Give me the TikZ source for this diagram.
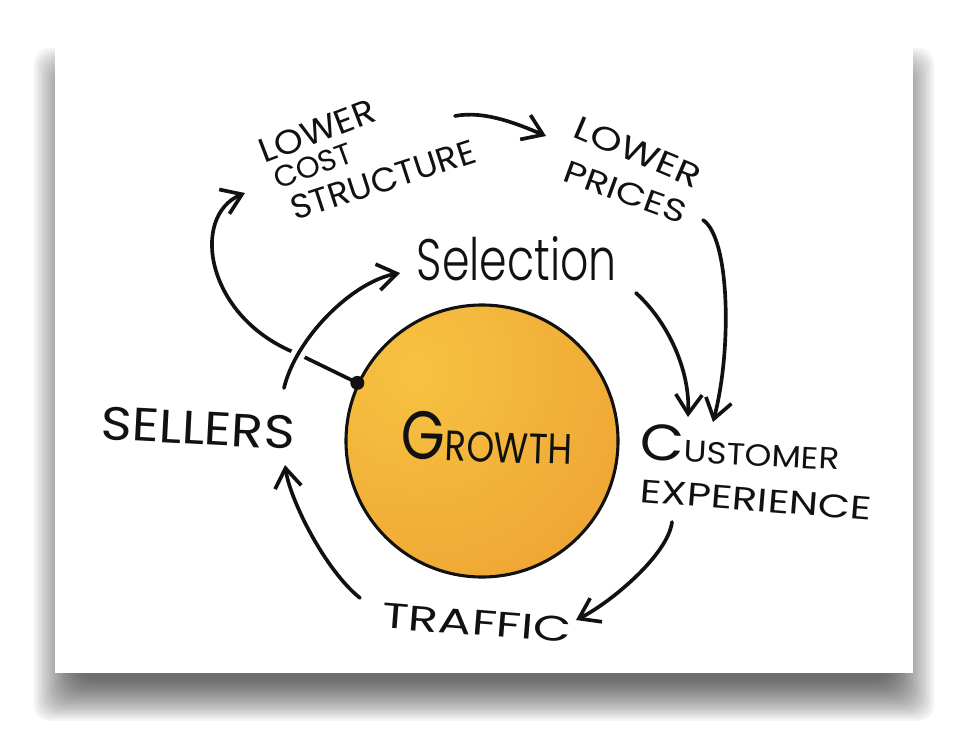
\documentclass[tikz,border=0pt]{standalone}
\usepackage{fontspec}
\setmainfont{Poppins}
\newfontfamily\lightfont{Poppins Light}
\usetikzlibrary{arrows.meta,calc}
\newlength\upx
\setlength\upx{0.025cm}
\newcommand{\fitw}[3]{\resizebox{#1\upx}{#2\upx}{#3}}
\definecolor{ink}{HTML}{111111}
\definecolor{orA}{HTML}{F6C241}
\definecolor{orB}{HTML}{EE9F31}
\tikzset{
  conn/.style={draw=ink, line width=2.6pt, line cap=round, line join=round,
    -{Straight Barb[length=0.48cm,width=0.66cm]}},
  lbl/.style={inner sep=0pt, outer sep=0pt, text=ink},
  casing/.style={preaction={draw=white, line width=10pt, -}},
}
\begin{document}
\begin{tikzpicture}[x=0.025cm,y=-0.025cm]
\useasboundingbox (0,0) rectangle (968,744);
\fill[white] (0,0) rectangle (968,744);
% card shadow
\foreach \i in {0,...,17}{
  \fill[black,opacity=0.045,rounded corners=16\upx]
    ({78-2.6*\i},{92-2.6*\i}) rectangle ({890+2.6*\i},{680+2.4*\i});
}
\fill[white] (55,41) rectangle (913,673);
% growth circle
\begin{scope}
  \clip (482,441) circle (136);
  \shade[inner color=orA, outer color=orB] (415,370) circle (300);
\end{scope}
\node[circle, draw=ink, line width=2.2pt, minimum size=272\upx, inner sep=0pt] (growth) at (482,441) {};
\node[lbl, rotate=-2] (growthlabel) at (487,438)
  {\fitw{171}{48}{{\fontsize{20}{20}\selectfont G}{\fontsize{12.5}{12.5}\selectfont ROWTH}}};
% labels
\node[lbl] (selection) at (517,259) {\fitw{200}{44}{\lightfont Selection}};
\node[lbl, rotate=-3] (sellers) at (198,428) {\fitw{194}{33}{SELLERS}};
\node[lbl, rotate=-3] (customer) at (740,447)
  {\fitw{200}{36}{{\fontsize{20}{20}\selectfont C}{\fontsize{12}{12}\selectfont USTOMER}}};
\node[lbl, rotate=-4.5] (experience) at (756,500) {\fitw{232}{23}{EXPERIENCE}};
\node[lbl, rotate=-4.5] (traffic) at (477,623) {\fitw{190}{25}{TRAFFIC}};
\node[lbl, rotate=21] (lower1) at (317,131) {\fitw{122}{24}{LOWER}};
\node[lbl, rotate=20] (cost) at (313,166) {\fitw{82}{21}{COST}};
\node[lbl, rotate=18] (structure) at (383,180) {\fitw{192}{24}{STRUCTURE}};
\node[lbl, rotate=-23] (lower2) at (638,152) {\fitw{134}{23}{LOWER}};
\node[lbl, rotate=-20] (prices) at (625,192) {\fitw{128}{22}{PRICES}};
% connectors
\draw[conn] (growth.155) -- (298,354) .. controls (205,318) and (190,216) .. ($(cost)+(-68,27)$);
\fill[ink] (growth.155) circle (7);
\draw[conn, casing] ($(sellers)+(86,-40)$) .. controls (296,338) and (352,282) .. ($(selection)+(-117,14)$);
\draw[conn] ($(selection)+(119,34)$) .. controls (668,322) and (690,370) .. ($(customer)+(-52,-30)$);
\draw[conn] ($(prices)+(78,28)$) .. controls (730,238) and (732,350) .. ($(customer)+(-27,-25)$);
\draw[conn] ($(experience)+(-84,22)$) .. controls (668,555) and (610,603) .. ($(traffic)+(99,-3)$);
\draw[conn] ($(traffic)+(-117,-25)$) .. controls (325,570) and (290,500) .. ($(sellers)+(87,37)$);
\draw[conn] ($(lower1)+(138,-15)$) .. controls (485,110) and (520,125) .. ($(lower2)+(-92,-16)$);
\end{tikzpicture}
\end{document}
